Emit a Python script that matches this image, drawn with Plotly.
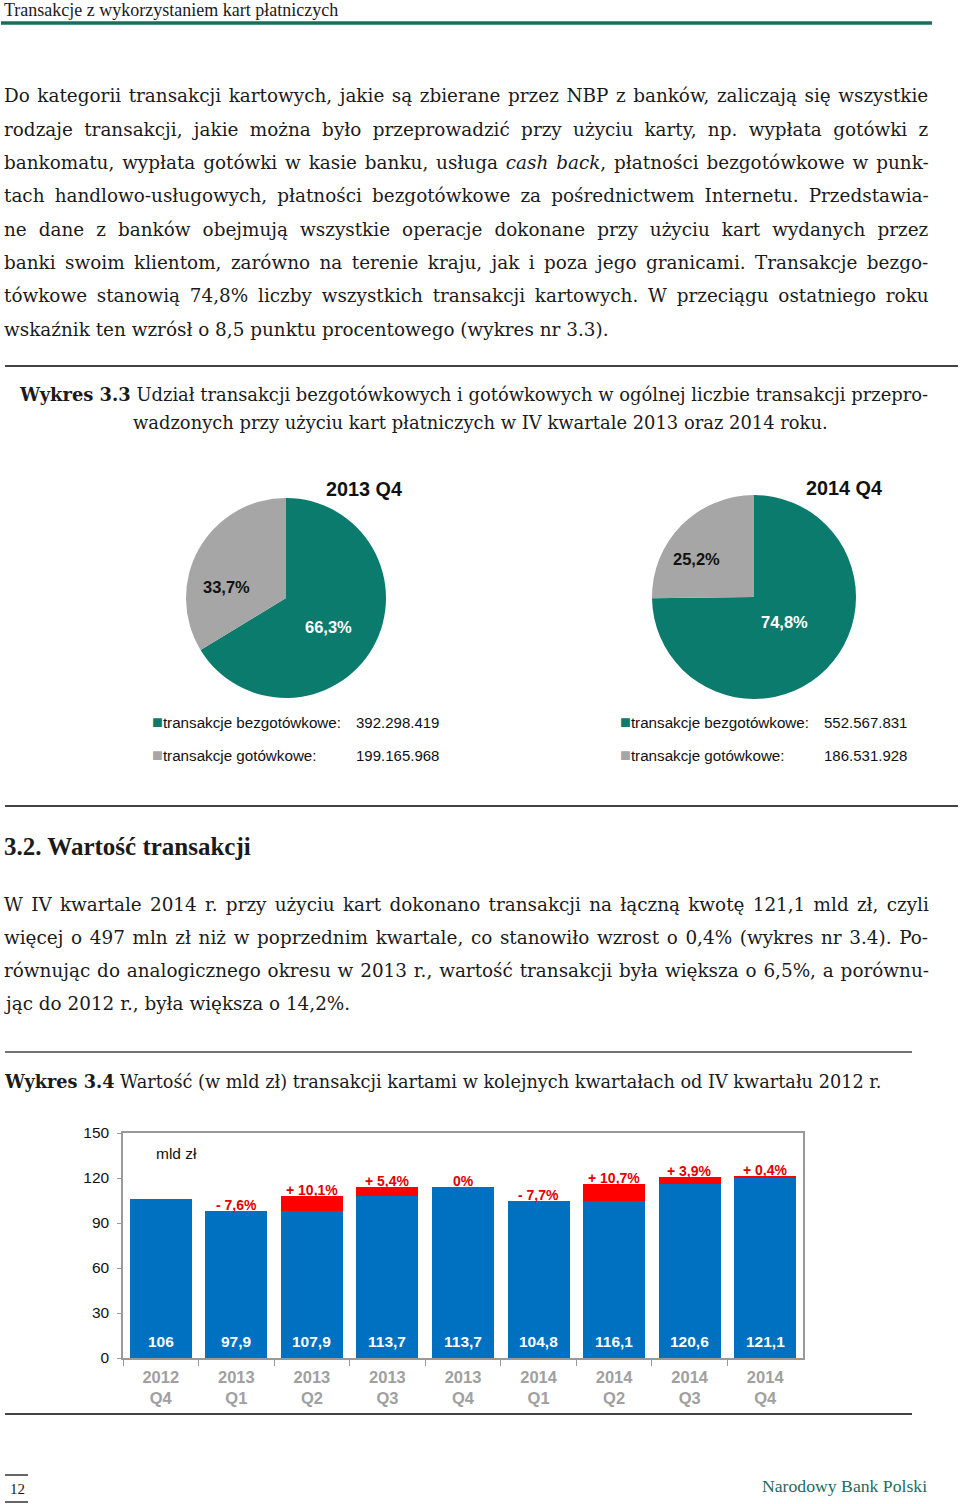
import plotly.graph_objects as go

W, H = 960, 1504
def X(px): return px / W
def Y(py): return 1 - py / H

# ---------------- data ----------------
header_title = "Transakcje z wykorzystaniem kart płatniczych"
para1 = [
    "Do kategorii transakcji kartowych, jakie są zbierane przez NBP z banków, zaliczają się wszystkie",
    "rodzaje transakcji, jakie można było przeprowadzić przy użyciu karty, np. wypłata gotówki z",
    "bankomatu, wypłata gotówki w kasie banku, usługa <i>cash back</i>, płatności bezgotówkowe w punk-",
    "tach handlowo-usługowych, płatności bezgotówkowe za pośrednictwem Internetu. Przedstawia-",
    "ne dane z banków obejmują wszystkie operacje dokonane przy użyciu kart wydanych przez",
    "banki swoim klientom, zarówno na terenie kraju, jak i poza jego granicami. Transakcje bezgo-",
    "tówkowe stanowią 74,8% liczby wszystkich transakcji kartowych. W przeciągu ostatniego roku",
    "wskaźnik ten wzrósł o 8,5 punktu procentowego (wykres nr 3.3).",
]
caption33 = [
    "<b>Wykres 3.3</b> Udział transakcji bezgotówkowych i gotówkowych w ogólnej liczbie transakcji przepro-",
    "wadzonych przy użyciu kart płatniczych w IV kwartale 2013 oraz 2014 roku.",
]
pie_titles = ["2013 Q4", "2014 Q4"]
pie_labels = ["transakcje bezgotówkowe:", "transakcje gotówkowe:"]
pie2013_pct = [66.3, 33.7]
pie2014_pct = [74.8, 25.2]
pie2013_counts = ["392.298.419", "199.165.968"]
pie2014_counts = ["552.567.831", "186.531.928"]

heading32 = "<b>3.2. Wartość transakcji</b>"
para2 = [
    "W IV kwartale 2014 r. przy użyciu kart dokonano transakcji na łączną kwotę 121,1 mld zł, czyli",
    "więcej o 497 mln zł niż w poprzednim kwartale, co stanowiło wzrost o 0,4% (wykres nr 3.4). Po-",
    "równując do analogicznego okresu w 2013 r., wartość transakcji była większa o 6,5%, a porównu-",
    "jąc do 2012 r., była większa o 14,2%.",
]
caption34 = "<b>Wykres 3.4</b> Wartość (w mld zł) transakcji kartami w kolejnych kwartałach od IV kwartału 2012 r."
quarters = ["2012<br>Q4", "2013<br>Q1", "2013<br>Q2", "2013<br>Q3", "2013<br>Q4",
            "2014<br>Q1", "2014<br>Q2", "2014<br>Q3", "2014<br>Q4"]
values = [106, 97.9, 107.9, 113.7, 113.7, 104.8, 116.1, 120.6, 121.1]
value_labels = ["106", "97,9", "107,9", "113,7", "113,7", "104,8", "116,1", "120,6", "121,1"]
change_labels = ["", "- 7,6%", "+ 10,1%", "+ 5,4%", "0%", "- 7,7%", "+ 10,7%", "+ 3,9%", "+ 0,4%"]
y_ticks = [0, 30, 60, 90, 120, 150]
unit_label = "mld zł"
page_number = "12"
footer_right = "Narodowy Bank Polski"

# ---------------- styles ----------------
TEAL = "#0b7b6d"
GRAY = "#a6a6a6"
BLUE = "#0070C0"
RED = "#FF0000"
SERIF = "Liberation Serif"
BODY = "DejaVu Serif"
SANS = "Liberation Sans"
TXT = "#1a1a1a"
# extra word spacing (px) per line to imitate justified text
para1_ws = [1.7, 5.5, 2.0, 4.3, 6.2, 3.6, 3.9, 0]
para2_ws = [2.4, 1.8, 1.0, 0]

fig = go.Figure()

# pies
fig.add_trace(go.Pie(values=pie2013_pct, labels=pie_labels, sort=False, direction="clockwise",
                     rotation=0, textinfo="none", hoverinfo="skip", showlegend=False,
                     marker=dict(colors=[TEAL, GRAY], line=dict(width=0)),
                     domain=dict(x=[X(186), X(386)], y=[Y(698), Y(498)])))
fig.add_trace(go.Pie(values=pie2014_pct, labels=pie_labels, sort=False, direction="clockwise",
                     rotation=0, textinfo="none", hoverinfo="skip", showlegend=False,
                     marker=dict(colors=[TEAL, GRAY], line=dict(width=0)),
                     domain=dict(x=[X(652), X(856)], y=[Y(699), Y(495)])))

# bars: blue = previous level (or current if it fell), red = increase
blue_part, red_part = [], []
for i, v in enumerate(values):
    prev = values[i - 1] if i > 0 else v
    blue_part.append(min(v, prev))
    red_part.append(max(0, round(v - prev, 1)))
fig.add_trace(go.Bar(x=quarters, y=blue_part, marker=dict(color=BLUE, line=dict(width=0)),
                     showlegend=False, hoverinfo="skip"))
fig.add_trace(go.Bar(x=quarters, y=red_part, marker=dict(color=RED, line=dict(width=0)),
                     showlegend=False, hoverinfo="skip"))

fig.update_layout(
    width=W, height=H, margin=dict(l=0, r=0, t=0, b=0, autoexpand=False),
    paper_bgcolor="white", plot_bgcolor="white", showlegend=False,
    barmode="stack", bargap=0.18,
    xaxis=dict(domain=[X(123), X(803)], showline=True, linecolor="#999999", linewidth=1.5,
               mirror=True, ticks="outside", tickson="boundaries", ticklen=6,
               tickcolor="#999999", showgrid=False, ticklabelstandoff=3, automargin=False,
               tickfont=dict(family=SANS, size=16.5, color="#a0a0a0", weight="bold")),
    yaxis=dict(domain=[Y(1358), Y(1133)], range=[0, 150], tickvals=y_ticks,
               showline=True, linecolor="#999999", linewidth=1.5, mirror=True,
               ticks="outside", ticklen=4, tickcolor="#999999", showgrid=False,
               zeroline=False, ticklabelstandoff=5, automargin=False,
               tickfont=dict(family=SANS, size=15.5, color="#111")),
)

ann = []
shapes = []

def text(px, py, s, size, family=BODY, color=TXT, xanchor="left", weight=None):
    f = dict(family=family, size=size, color=color)
    if weight:
        f["weight"] = weight
    ann.append(dict(x=X(px), y=Y(py), xref="paper", yref="paper", text=s, showarrow=False,
                    xanchor=xanchor, yanchor="middle", font=f, borderpad=0))

def hline(x0, x1, py, color, width):
    shapes.append(dict(type="line", xref="paper", yref="paper", x0=X(x0), x1=X(x1),
                       y0=Y(py), y1=Y(py), line=dict(color=color, width=width)))

def justified(line, ws):
    return f'<span style="word-spacing:{ws}px">{line}</span>' if ws else line

# header
text(3, 10, header_title, 18, SERIF)
hline(1, 932, 23, "#1d6b5c", 3.5)

# paragraph 1
for i, (line, ws) in enumerate(zip(para1, para1_ws)):
    text(3, 96 + i * 33.3, justified(line, ws), 18.4)
hline(5, 958, 366, "#444", 2)

# caption 3.3
text(18, 394, caption33[0], 17.9)
text(480, 422, caption33[1], 17.9, xanchor="center")

# pie titles and labels
text(364, 489, pie_titles[0], 19.8, SANS, "#111", "center", "bold")
text(844, 488, pie_titles[1], 19.8, SANS, "#111", "center", "bold")
text(226, 587, f"{pie2013_pct[1]:.1f}%".replace(".", ","), 16.5, SANS, "#111", "center", "bold")
text(328, 627, f"{pie2013_pct[0]:.1f}%".replace(".", ","), 16.5, SANS, "white", "center", "bold")
text(696, 559, f"{pie2014_pct[1]:.1f}%".replace(".", ","), 16.5, SANS, "#111", "center", "bold")
text(784, 622, f"{pie2014_pct[0]:.1f}%".replace(".", ","), 16.5, SANS, "white", "center", "bold")

# pie legends
for (lx, vx, counts) in [(151, 355, pie2013_counts), (619, 823, pie2014_counts)]:
    for j, (lab, col) in enumerate(zip(pie_labels, [TEAL, GRAY])):
        py = 722 + j * 33
        text(lx, py, f'<span style="color:{col};font-size:18px">■</span>{lab}', 15.2, SANS, "#111")
        text(vx, py, counts[j], 15, SANS, "#111")
hline(5, 958, 806, "#444", 2)

# section 3.2
text(3, 846, heading32, 25, SERIF)
for i, (line, ws) in enumerate(zip(para2, para2_ws)):
    text(3, 904 + i * 33.3, justified(line, ws), 18.4)
hline(5, 912, 1052, "#444", 1.5)
text(3, 1081, caption34, 17.7)

# bar chart annotations
text(176, 1153, unit_label, 15.5, SANS, "#111", "center")
for q, lab in zip(quarters, value_labels):
    ann.append(dict(x=q, y=11.3, xref="x", yref="y", text=lab, showarrow=False,
                    font=dict(family=SANS, size=15.5, color="white", weight="bold")))
for q, v, lab in zip(quarters, values, change_labels):
    if lab:
        ann.append(dict(x=q, y=v, xref="x", yref="y", text=lab, showarrow=False,
                        yanchor="bottom", yshift=-4,
                        font=dict(family=SANS, size=14, color="#e00000", weight="bold")))
hline(5, 912, 1414, "#444", 2)

# footer
hline(5, 28, 1475, "#333", 1.5)
hline(5, 28, 1502, "#333", 1.5)
text(17, 1489, page_number, 15, SERIF, xanchor="center")
text(928, 1486, footer_right, 17.7, SERIF, "#1d6b5c", "right")

fig.update_layout(annotations=ann, shapes=shapes)
# the page should show the figure edge to edge (no default body margin)
fig.write_html("out.html", config={"displayModeBar": False},
               post_script="document.body.style.margin='0';")
